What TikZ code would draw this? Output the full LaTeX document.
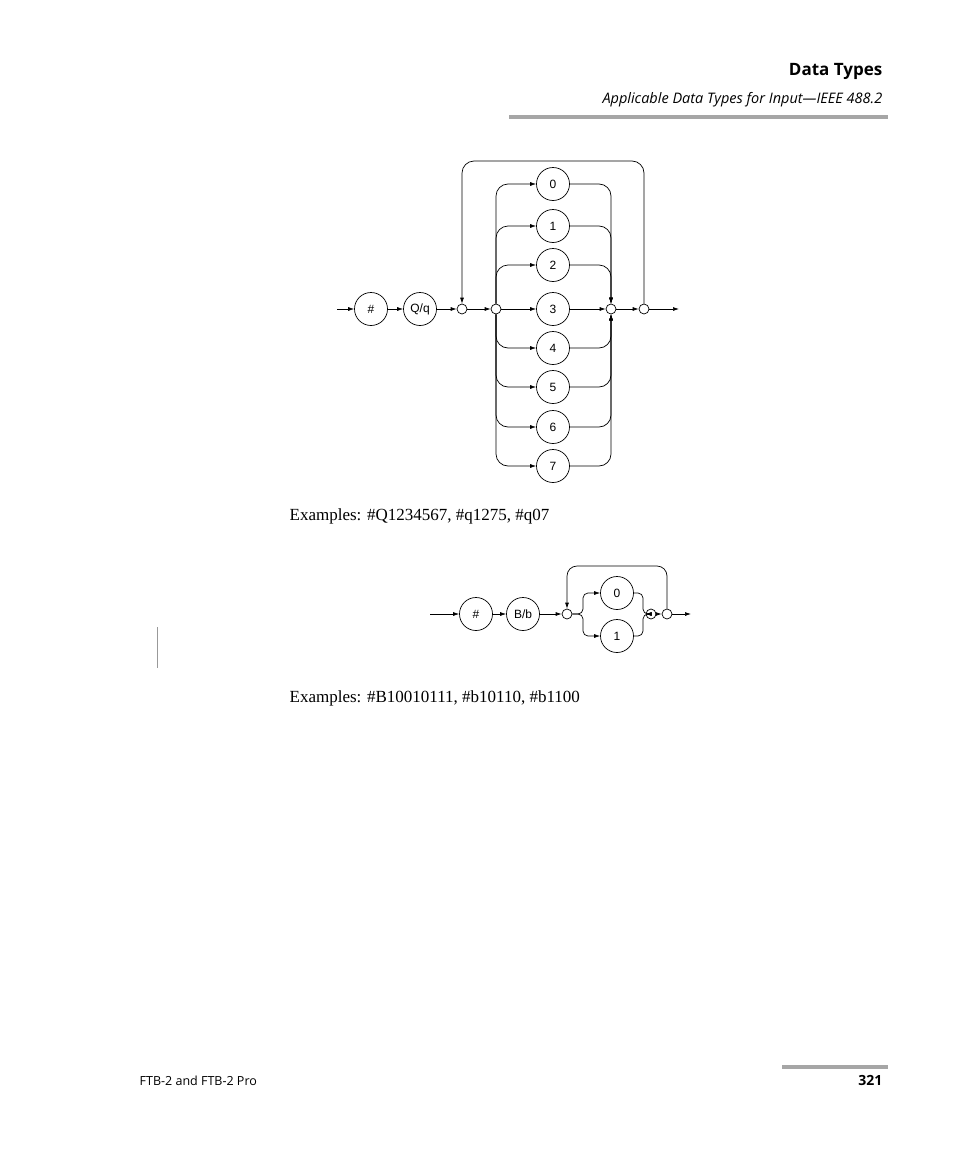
\documentclass[tikz,border=0pt]{standalone}
\usepackage{fontspec}
\setmainfont{Open Sans}
\newfontfamily\arial{Liberation Sans}
\newfontfamily\tnr{Liberation Serif}
\usetikzlibrary{arrows.meta}
\begin{document}
\begin{tikzpicture}[x=1pt,y=-1pt,
  big/.style={circle,draw,minimum size=33pt,inner sep=0pt,font=\arial\fontsize{12}{12}\selectfont},
  sm/.style={circle,draw,minimum size=10pt,inner sep=0pt},
  ar/.style={-{Latex[length=6pt,width=4pt]}},
  rc/.style={rounded corners=12pt},
  every path/.style={line width=0.7pt}]
\useasboundingbox (0,0) rectangle (954,1159);
% header
\node[anchor=base east,font=\bfseries\fontsize{17}{17}\selectfont] (h1) at (886,75) {Data Types};
\node[anchor=base east,font=\itshape\fontsize{14.5}{14.5}\selectfont] (h2) at (886,103) {Applicable Data Types for Input—IEEE 488.2};
\draw[line width=3.5pt,black!35] (509,117) -- (888,117);
\draw[line width=3.5pt,black!35] (782,1067) -- (888,1067);
\node[anchor=base west,font=\fontsize{12.5}{12.5}\selectfont] (f1) at (136,1085) {FTB-2 and FTB-2 Pro};
\node[anchor=base east,font=\bfseries\fontsize{14}{14}\selectfont] (f2) at (886,1085) {321};
\draw[black!40,line width=1pt] (157,627) -- (157,668);
% top diagram
\coordinate (s1) at (337,309);
\node[big] (h) at (371,309) {\#};
\node[big] (q) at (420,309) {Q/q};
\node[sm] (a) at (462,309) {};
\node[sm] (b) at (496,309) {};
\node[sm] (c) at (611,309) {};
\node[sm] (d) at (644,309) {};
\coordinate (e1) at (679,309);
\foreach \n/\y in {0/184,1/226,2/265,3/309,4/348,5/387,6/427,7/466}
  \node[big] (d\n) at (553,\y) {\n};
\draw[ar] (s1) -- (h);
\draw[ar] (h) -- (q);
\draw[ar] (q) -- (a);
\draw[ar] (a) -- (b);
\draw[ar] (b) -- (d3);
\draw[ar] (d3) -- (c);
\draw[ar] (c) -- (d);
\draw[ar] (d) -- (e1);
\foreach \n in {0,1,2} {
  \draw[ar,rc] (b.north) |- (d\n);
  \draw[ar,rc] (d\n) -| (c.north);}
\foreach \n in {4,5,6,7} {
  \draw[ar,rc] (b.south) |- (d\n);
  \draw[ar,rc] (d\n) -| (c.south);}
\draw[ar,rc] (d.north) |- (553,161) -| (a.north);
\node[anchor=base west,font=\tnr\fontsize{17}{17}\selectfont] (ex1) at (286,520) {Examples: \#Q1234567, \#q1275, \#q07};
% bottom diagram
\coordinate (s2) at (430,614);
\node[big] (h2b) at (476,614) {\#};
\node[big] (bb) at (523,614) {B/b};
\node[sm] (p) at (567,614) {};
\node[big] (z0) at (617,593) {0};
\node[big] (z1) at (617,636) {1};
\node[sm] (r) at (651,614) {};
\node[sm] (t) at (667,614) {};
\coordinate (e2) at (691,614);
\draw[ar] (s2) -- (h2b);
\draw[ar] (h2b) -- (bb);
\draw[ar] (bb) -- (p);
\draw[ar,rounded corners=5pt] (p.east) -- (583,614) |- (z0);
\draw[ar,rounded corners=5pt] (p.east) -- (583,614) |- (z1);
\draw[ar,rounded corners=5pt] (z0) -| (643,614) -- (r.west);
\draw[ar,rounded corners=5pt] (z1) -| (643,614) -- (r.west);
\draw[ar] (r) -- (t);
\draw[ar] (t) -- (e2);
\draw[ar,rounded corners=10pt] (t.north) |- (617,566) -| (p.north);
\node[anchor=base west,font=\tnr\fontsize{17}{17}\selectfont] (ex2) at (286,702) {Examples: \#B10010111, \#b10110, \#b1100};
\end{tikzpicture}
\end{document}
